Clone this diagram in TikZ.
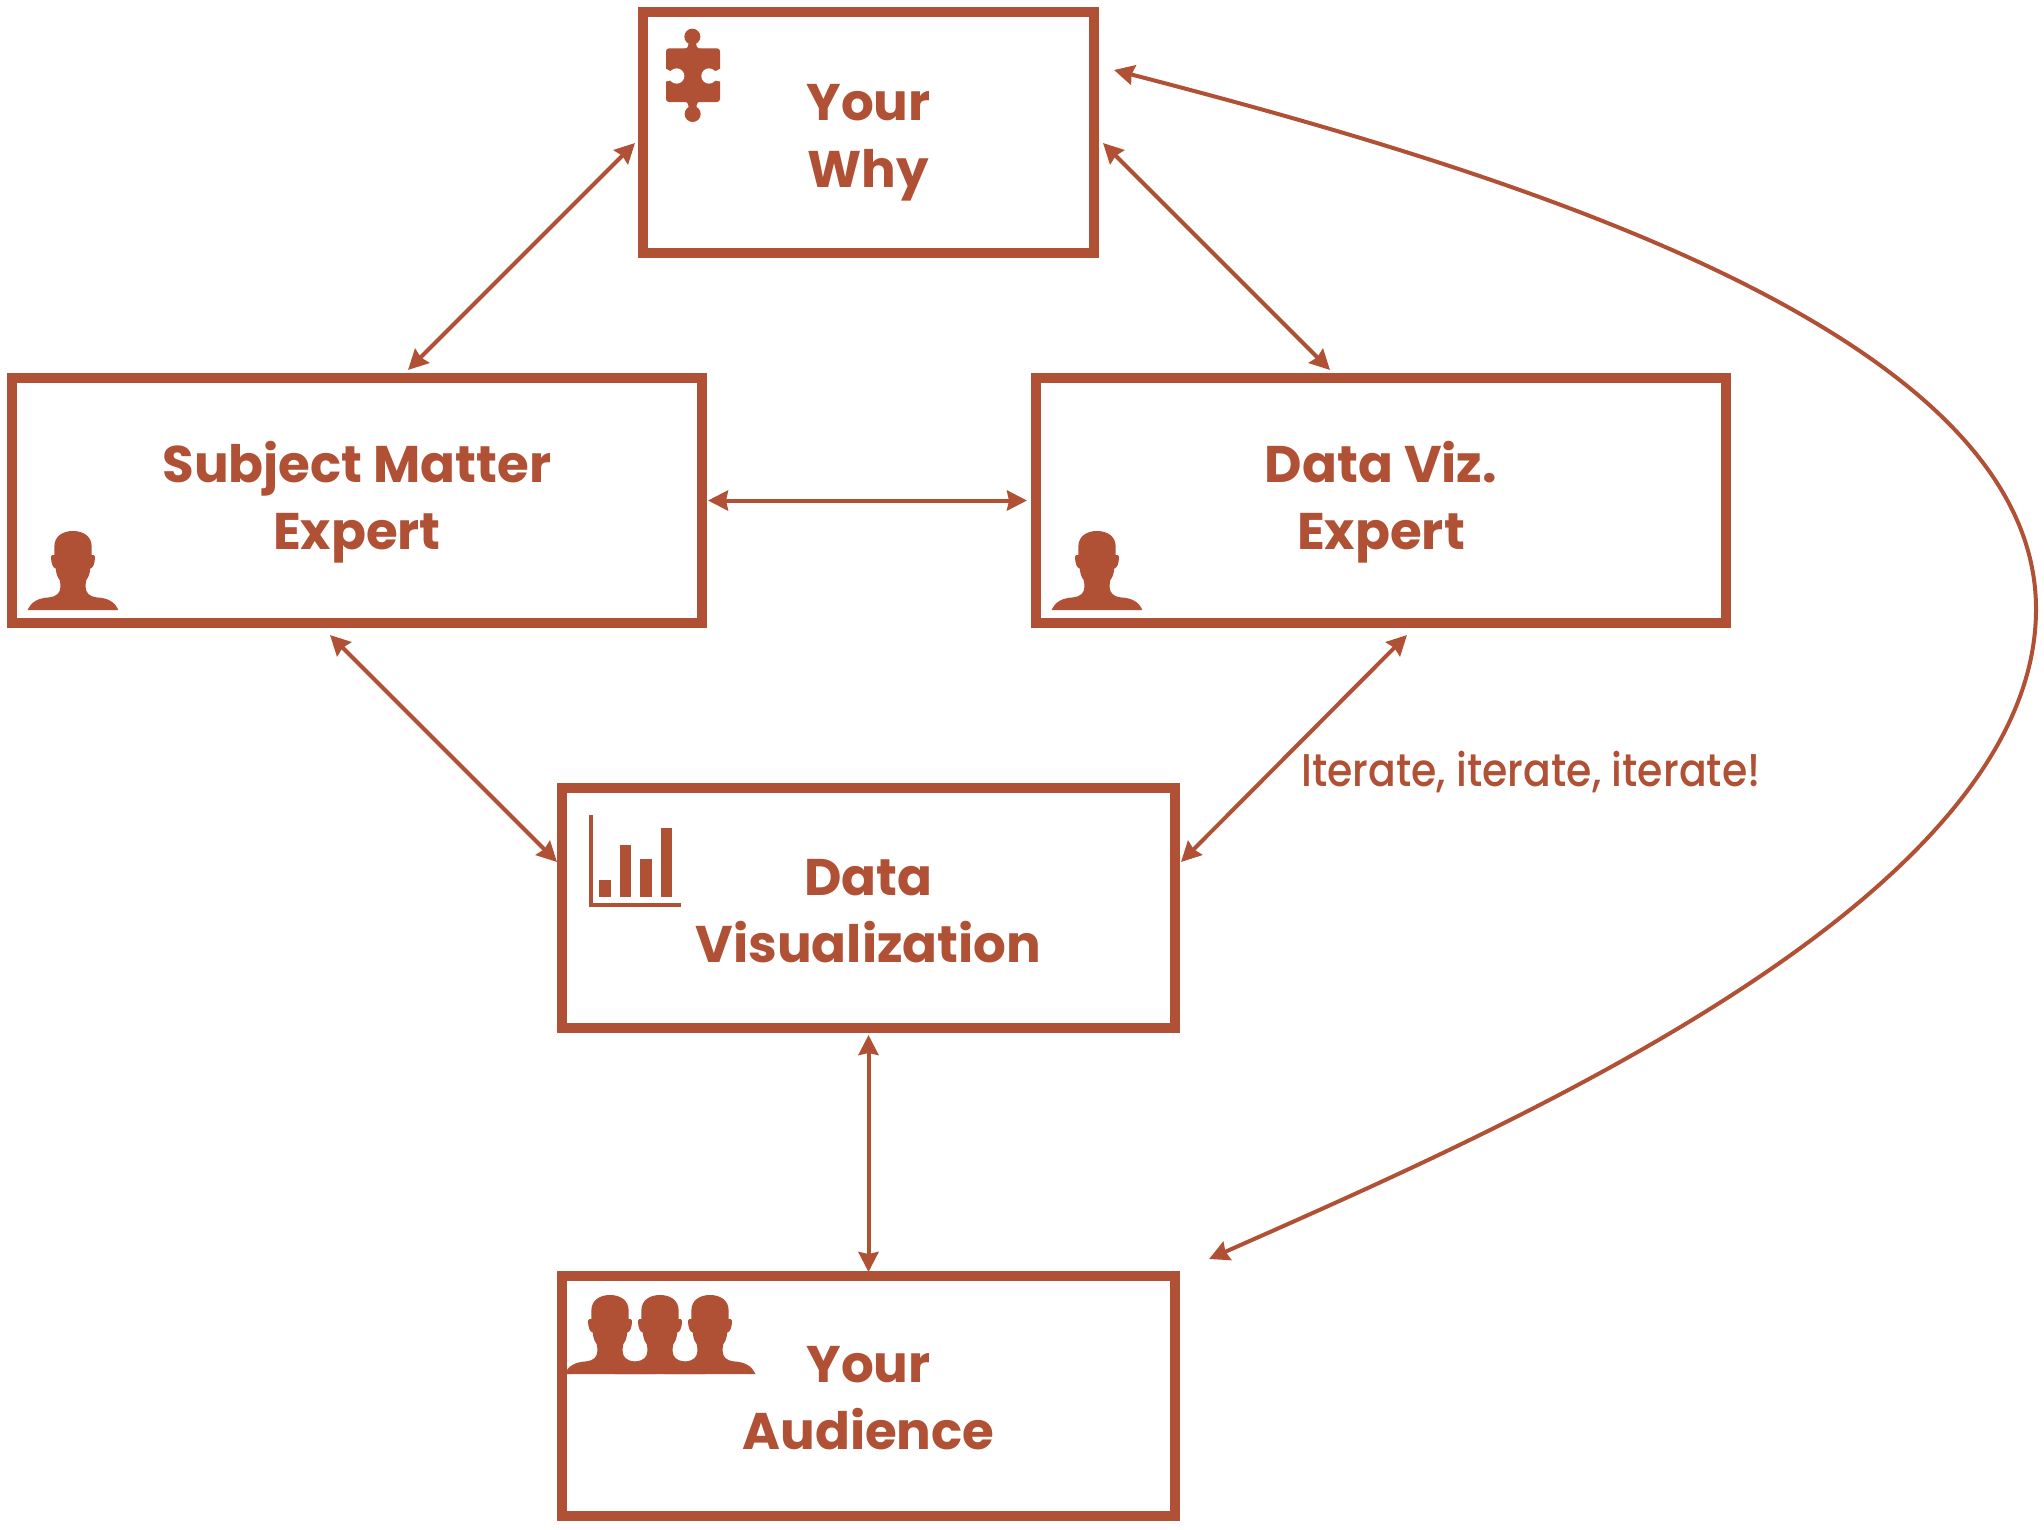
\documentclass[tikz,border=0pt]{standalone}
\usepackage{fontspec}
\setmainfont{Poppins}
\newfontfamily\iterfont{Poppins Medium}
\usetikzlibrary{arrows.meta}
\definecolor{rust}{HTML}{B05034}
\newcommand{\twolines}[3]{\rule{0pt}{#1pt}#2\\\rule[-20pt]{0pt}{20pt}#3}
\newcommand{\personicon}[2]{%
\fill[rust,shift={(#1,#2)},scale=1/3]
 (-136,0) .. controls (-125,-25) and (-105,-36) .. (-70,-38)
 .. controls (-50,-40) and (-38,-52) .. (-38,-68)
 .. controls (-38,-76) and (-38,-84) .. (-40,-90)
 .. controls (-48,-100) and (-50,-110) .. (-52,-125)
 .. controls (-60,-125) and (-66,-140) .. (-66,-160)
 .. controls (-66,-165) and (-60,-165) .. (-56,-165)
 -- (-56,-190) .. controls (-56,-222) and (-30,-237) .. (0,-237)
 .. controls (30,-237) and (56,-222) .. (56,-190)
 -- (56,-165) .. controls (60,-165) and (66,-165) .. (66,-160)
 .. controls (66,-140) and (60,-125) .. (52,-125)
 .. controls (50,-110) and (48,-100) .. (40,-90)
 .. controls (38,-84) and (38,-76) .. (38,-68)
 .. controls (38,-52) and (50,-40) .. (70,-38)
 .. controls (105,-36) and (125,-25) .. (136,0) -- cycle;}
\tikzset{
  box/.style={draw=rust,line width=10pt,fill=white,rectangle,inner sep=0pt,outer sep=0pt,
    text=rust,align=center,font=\fontsize{51.5}{67}\selectfont\bfseries},
  link/.style={draw=rust,line width=4pt,{Stealth[length=20pt,width=20pt,inset=2pt]}-{Stealth[length=20pt,width=20pt,inset=2pt]}},
}
\begin{document}
\begin{tikzpicture}[x=1pt,y=-1pt]
\useasboundingbox (0,0) rectangle (2044,1529);
\node[box,minimum width=451pt,minimum height=241pt] (why) at (868.5,132.5) {\twolines{62}{Your}{Why}};
\node[box,minimum width=690pt,minimum height=245pt] (sme) at (357,500.5) {\twolines{50}{Subject Matter}{Expert}};
\node[box,minimum width=690pt,minimum height=245pt] (dve) at (1381,500.5) {\twolines{50}{Data Viz.}{Expert}};
\node[box,minimum width=613pt,minimum height=240pt] (viz) at (868.5,908) {\twolines{61}{Data}{Visualization}};
\node[box,minimum width=613pt,minimum height=240pt] (aud) at (868.5,1396) {\twolines{59}{Your}{Audience}};
\node[text=rust,anchor=base west,inner sep=0pt,font=\fontsize{41}{44}\selectfont\iterfont] (iter) at (1301,786) {\scalebox{1}[1.12]{Iterate, iterate, iterate!}};
% connectors
\draw[link] ([shift={(-8,131)}]why.north west) -- ([shift={(396,-8)}]sme.north west);
\draw[link] ([shift={(9,131)}]why.north east) -- ([shift={(294,-8)}]dve.north west);
\draw[link] ([xshift=6pt]sme.east) -- ([xshift=-9pt]dve.west);
\draw[link] ([shift={(318,12)}]sme.south west) -- ([shift={(-5,74)}]viz.north west);
\draw[link] ([shift={(371,12)}]dve.south west) -- ([shift={(6,74)}]viz.north east);
\draw[link] ([yshift=-7pt]viz.south) -- ([yshift=4pt]aud.north);
\draw[link] ([shift={(20,58)}]why.north east) .. controls (1500,170) and (2036,330) .. (2036,609)
  .. controls (2036,900) and (1500,1130) .. ([shift={(34,-17)}]aud.north east);
% icons
\personicon{73}{610}
\personicon{1097}{610}
\personicon{610}{1374}
\personicon{660}{1374}
\personicon{710}{1374}
% puzzle
\begin{scope}[shift={(630,0)},scale=1/3]
\fill[rust,rounded corners=3pt] (108,145) rectangle (270,306);
\fill[rust] (187,110) circle (24);
\fill[rust] (188,342) circle (24);
\fill[rust] (160,147) .. controls (175,147) and (177,135) .. (175,122) -- (199,122) .. controls (197,135) and (199,147) .. (214,147) -- cycle;
\fill[rust] (160,304) .. controls (175,304) and (177,316) .. (175,330) -- (200,330) .. controls (198,316) and (200,304) .. (214,304) -- cycle;
\fill[white] (140,228) circle (23);
\fill[white] (237,228) circle (23);
\fill[white] (104,207) -- (110,207) .. controls (118,214) and (124,214) .. (130,212) -- (130,244) .. controls (124,242) and (118,240) .. (110,244) -- (104,244) -- cycle;
\fill[white] (274,207) -- (268,207) .. controls (260,214) and (254,214) .. (248,212) -- (248,244) .. controls (254,242) and (260,240) .. (268,244) -- (274,244) -- cycle;
\end{scope}
% chart
\begin{scope}[shift={(550,780)},scale=1/3]
\fill[rust] (116,105) rectangle (128,382);
\fill[rust] (116,370) rectangle (392,382);
\fill[rust] (147,300) rectangle (182,350);
\fill[rust] (209,195) rectangle (244,350);
\fill[rust] (270,236) rectangle (305,350);
\fill[rust] (332,145) rectangle (367,350);
\end{scope}
\end{tikzpicture}
\end{document}
